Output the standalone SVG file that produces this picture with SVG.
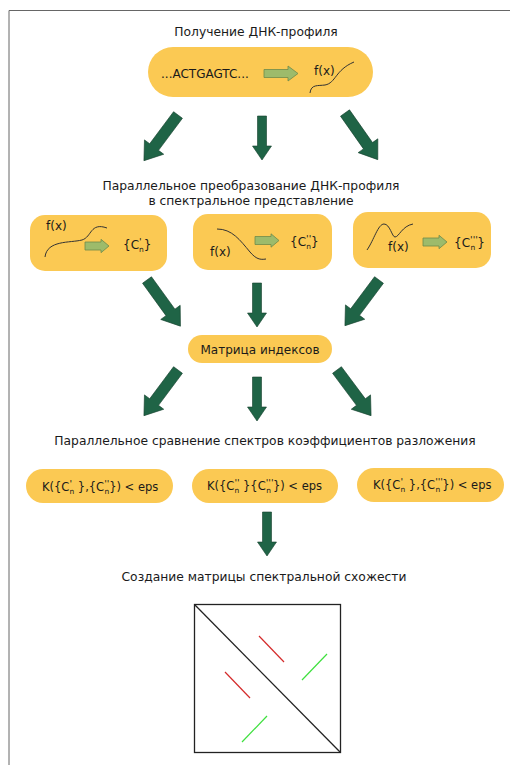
<svg xmlns="http://www.w3.org/2000/svg" xmlns:xlink="http://www.w3.org/1999/xlink" width="510" height="765" viewBox="0 0 510 765">
<style>
text{font-family:"DejaVu Sans","Liberation Sans",sans-serif;fill:#1a1a1a}
.h{font-size:12.3px;text-anchor:middle}
.t{font-size:12px}
.f{font-size:11.5px}
.s{font-size:7.5px}
.p{font-size:9.5px}
.node{fill:#fbc953}
.big{fill:#1f6446;stroke:#143f2c;stroke-width:0.6}
.sm{fill:#9dbb6b;stroke:#6e8a4a;stroke-width:0.8}
.crv{fill:none;stroke:#333;stroke-width:1}
</style>
<defs>
<path id="adiag" d="M-5.5,0 L5.5,0 L5.5,40 L12,40 L0,57 L-12,40 L-5.5,40 Z"/>
<path id="avert" d="M-4.5,0 L4.5,0 L4.5,30 L9.5,30 L0,44 L-9.5,30 L-4.5,30 Z"/>
<path id="sa" d="M0,-4 L16,-4 L16,-6.7 L24,0 L16,6.7 L16,4 L0,4 Z"/>
<path id="sa2" d="M0,-4 L24,-4 L24,-7.5 L34,0 L24,7.5 L24,4 L0,4 Z"/>
</defs>
<rect width="510" height="765" fill="#fff"/>
<path d="M9,765 L9,10.5 L510,10.5" fill="none" stroke="#666" stroke-width="1"/>

<g id="heading1"><text class="h" x="256" y="36">Получение ДНК-профиля</text></g>

<g id="node-dna">
<rect class="node" x="148" y="47" width="225" height="50" rx="25"/>
<text class="t" x="161" y="78">...ACTGAGTC...</text>
<use href="#sa2" class="sm" x="264" y="73.5"/>
<text class="t" x="314" y="75">f(x)</text>
<path class="crv" d="M310,93 C311,84 318,86 325,85 C336,83 335,70 354,62"/>
</g>

<g id="heading2"><text class="h" x="251" y="190">Параллельное преобразование ДНК-профиля</text><text class="h" x="251" y="205">в спектральное представление</text></g>

<g id="node-spec1">
<rect class="node" x="30" y="215" width="137" height="56" rx="15"/>
<text class="t" x="46" y="230">f(x)</text>
<path class="crv" d="M45,257 C47,240 70,243 82,240 C92,237 90,222 107,228"/>
<use href="#sa" class="sm" x="85" y="246"/>
<text class="t" x="123" y="249">{C<tspan class="p" dy="-4">'</tspan><tspan class="s" dx="-2.6" dy="7">n</tspan><tspan dy="-3">}</tspan></text>
</g>

<g id="node-spec2">
<rect class="node" x="193" y="214" width="139" height="56" rx="15"/>
<path class="crv" d="M217,229 C232,229 240,240 250,252 C256,259 260,260 266,259"/>
<text class="t" x="210" y="256">f(x)</text>
<use href="#sa" class="sm" x="255" y="240.5"/>
<text class="t" x="290" y="246">{C<tspan class="p" dy="-4">''</tspan><tspan class="s" dx="-5" dy="7">n</tspan><tspan dy="-3">}</tspan></text>
</g>

<g id="node-spec3">
<rect class="node" x="353" y="212" width="138" height="56" rx="15"/>
<path class="crv" d="M367,250 C374,240 378,224 384,224 C390,224 392,237 395,237 C399,237 402,226 413,224"/>
<text class="t" x="388" y="251">f(x)</text>
<use href="#sa" class="sm" x="423" y="242"/>
<text class="t" x="454" y="247">{C<tspan class="p" dy="-4">'''</tspan><tspan class="s" dx="-7.4" dy="7">n</tspan><tspan dx="2" dy="-3">}</tspan></text>
</g>

<g id="node-index">
<rect class="node" x="188" y="335" width="144" height="28" rx="14"/>
<text class="t" x="260" y="354" text-anchor="middle">Матрица индексов</text>
</g>

<g id="heading3"><text class="h" x="265" y="445">Параллельное сравнение спектров коэффициентов разложения</text></g>

<g id="node-cmp1">
<rect class="node" x="26" y="469" width="147" height="34" rx="17"/>
<text class="f" x="42" y="491">K({C<tspan class="p" dy="-4">'</tspan><tspan class="s" dx="-2.6" dy="7">n</tspan><tspan dy="-3"> },{C</tspan><tspan class="p" dy="-4">''</tspan><tspan class="s" dx="-5" dy="7">n</tspan><tspan dy="-3">}) &lt; eps</tspan></text>
</g>

<g id="node-cmp2">
<rect class="node" x="192" y="469" width="146" height="34" rx="17"/>
<text class="f" x="207" y="490">K({C<tspan class="p" dy="-4">''</tspan><tspan class="s" dx="-5" dy="7">n</tspan><tspan dy="-3"> }{C</tspan><tspan class="p" dy="-4">'''</tspan><tspan class="s" dx="-7.4" dy="7">n</tspan><tspan dx="2" dy="-3">}) &lt; eps</tspan></text>
</g>

<g id="node-cmp3">
<rect class="node" x="357" y="468" width="147" height="34" rx="17"/>
<text class="f" x="373" y="489">K({C<tspan class="p" dy="-4">'</tspan><tspan class="s" dx="-2.6" dy="7">n</tspan><tspan dy="-3"> },{C</tspan><tspan class="p" dy="-4">'''</tspan><tspan class="s" dx="-7.4" dy="7">n</tspan><tspan dx="2" dy="-3">}) &lt; eps</tspan></text>
</g>

<g id="heading4"><text class="h" x="264" y="581">Создание матрицы спектральной схожести</text></g>

<g id="node-matrix">
<rect x="194.5" y="604.5" width="146" height="148" fill="#fff" stroke="#222" stroke-width="1.3"/>
<line x1="194.5" y1="604.5" x2="340.5" y2="752.5" stroke="#222" stroke-width="1.3"/>
<line x1="259" y1="636" x2="284" y2="662" stroke="#d42a2a" stroke-width="1.2"/>
<line x1="225" y1="672" x2="250" y2="698" stroke="#d42a2a" stroke-width="1.2"/>
<line x1="302" y1="680" x2="327" y2="654" stroke="#3ee03e" stroke-width="1.2"/>
<line x1="242" y1="742" x2="267" y2="716" stroke="#3ee03e" stroke-width="1.2"/>
</g>

<g id="connectors">
<use href="#adiag" class="big" transform="translate(178,115) rotate(36.7)"/>
<use href="#avert" class="big" transform="translate(262,116)"/>
<use href="#adiag" class="big" transform="translate(345,113) rotate(-35.1)"/>
<use href="#adiag" class="big" transform="translate(147,280) rotate(-35.9)"/>
<use href="#avert" class="big" transform="translate(257,283)"/>
<use href="#adiag" class="big" transform="translate(379,280) rotate(36.7)"/>
<use href="#adiag" class="big" transform="translate(178,370) rotate(36.7)"/>
<use href="#avert" class="big" transform="translate(257,377)"/>
<use href="#adiag" class="big" transform="translate(337,370) rotate(-36.7)"/>
<use href="#avert" class="big" transform="translate(267,512)"/>
</g>
</svg>
